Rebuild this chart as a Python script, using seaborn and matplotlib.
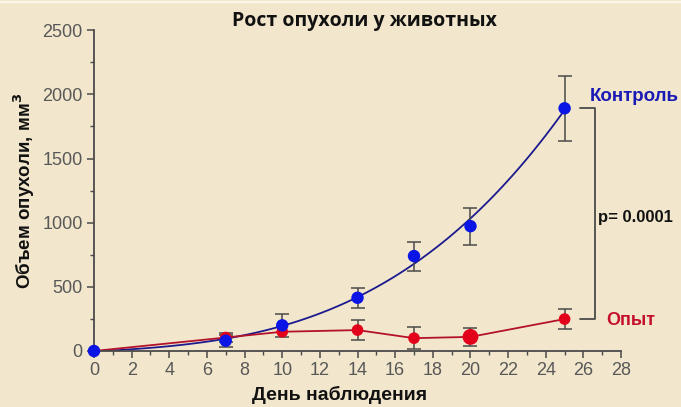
import numpy as np
import pandas as pd
import matplotlib
matplotlib.use("Agg")
import matplotlib.pyplot as plt
from matplotlib.lines import Line2D
from matplotlib.ticker import MultipleLocator
import seaborn as sns

# Observation days and tumour volumes (mm^3)
days_control = [0, 7, 10, 14, 17, 20, 25]
vol_control = [0, 80, 200, 415, 740, 973, 1892]
err_control = [0, 45, 90, 78, 113, 145, 252]

days_treated = [0, 7, 10, 14, 17, 20, 25]
vol_treated = [0, 105, 150, 163, 100, 110, 249]
err_treated = [0, 35, 0, 75, 85, 70, 78]

title = "Рост опухоли у животных"
xlabel = "День наблюдения"
ylabel = "Объем опухоли, мм$^\\mathbf{3}$"
label_control = "Контроль"
label_treated = "Опыт"
p_text = "p= 0.0001"

bg = "#F2E7CC"
blue_pt = "#0B16E6"
blue_ln = "#1C1A8E"
red_pt = "#E3001A"
red_ln = "#B3122A"
grey = "#4A4A4A"

sns.set_theme(style="ticks")
plt.rcParams["font.family"] = ["Liberation Sans", "DejaVu Sans"]

df_c = pd.DataFrame({"day": days_control, "vol": vol_control})
df_t = pd.DataFrame({"day": days_treated, "vol": vol_treated})

fig = plt.figure(figsize=(6.81, 4.07), dpi=100, facecolor=bg)
ax = fig.add_axes([0.138, 0.1376, 0.774, 0.788])
ax.set_facecolor(bg)
fig.add_artist(Line2D([0, 1], [0.994, 0.994], transform=fig.transFigure,
                      color="#FBF6EA", lw=1.5))

# smooth growth curve for control, segment line for treated group
sns.regplot(data=df_c, x="day", y="vol", order=3, ci=None, scatter=False,
            truncate=True, ax=ax, line_kws=dict(color=blue_ln, lw=1.3, zorder=2))
sns.lineplot(data=df_t, x="day", y="vol", ax=ax, color=red_ln, lw=1.3, zorder=2)

for days, vols, errs in [(days_treated, vol_treated, err_treated),
                         (days_control, vol_control, err_control)]:
    for d, v, e in zip(days, vols, errs):
        if e > 0:
            ax.errorbar(d, v, yerr=e, fmt="none", ecolor=grey, elinewidth=1.1,
                        capsize=5, capthick=1.1, zorder=3)

sizes_t = [70] * len(days_treated)
sizes_t[5] = 130
sns.scatterplot(data=df_t, x="day", y="vol", ax=ax, color=red_pt, s=sizes_t,
                edgecolor="none", zorder=4, clip_on=False, legend=False)
sns.scatterplot(data=df_c, x="day", y="vol", ax=ax, color=blue_pt, s=80,
                edgecolor="none", zorder=5, clip_on=False, legend=False)

ax.set_xlim(0, 28)
ax.set_ylim(0, 2500)
ax.xaxis.set_major_locator(MultipleLocator(2))
ax.xaxis.set_minor_locator(MultipleLocator(1))
ax.yaxis.set_major_locator(MultipleLocator(500))
ax.yaxis.set_minor_locator(MultipleLocator(250))
ax.tick_params(which="major", length=5, width=1.1, color=grey, labelcolor="#585858",
               labelsize=13, pad=3)
ax.tick_params(which="minor", length=3, width=1.0, color=grey)
for s in ["left", "bottom"]:
    ax.spines[s].set_color(grey)
    ax.spines[s].set_linewidth(1.3)
sns.despine(ax=ax)

ax.set_xlabel("")
ax.set_ylabel(ylabel, fontsize=13.5, fontweight="bold", color="#111111", labelpad=4)
fig.text(0.498, 0.008, xlabel, fontsize=14, fontweight="bold", color="#111111",
         ha="center", va="bottom")
fig.text(0.535, 0.925, title, fontsize=14, fontweight="bold", color="#111111",
         ha="center", va="bottom", family=["Open Sans", "DejaVu Sans"])

# significance bracket between final values
bx0, bx1 = 25.8, 26.6
ax.plot([bx0, bx1, bx1, bx0],
        [vol_control[-1], vol_control[-1], vol_treated[-1], vol_treated[-1]],
        color=grey, lw=1.3, clip_on=False, zorder=3)
ax.text(26.8, (vol_control[-1] + vol_treated[-1]) / 2 - 30, p_text, fontsize=12,
        fontweight="bold", color="#111111", va="center", ha="left", clip_on=False)
ax.text(26.35, vol_control[-1] + 90, label_control, fontsize=13.5, fontweight="bold",
        color="#1A1AB4", va="center", ha="left", clip_on=False)
ax.text(27.2, vol_treated[-1] - 10, label_treated, fontsize=13, fontweight="bold",
        color="#C4102C", va="center", ha="left", clip_on=False)

fig.savefig("out.png", dpi=100, facecolor=bg)
